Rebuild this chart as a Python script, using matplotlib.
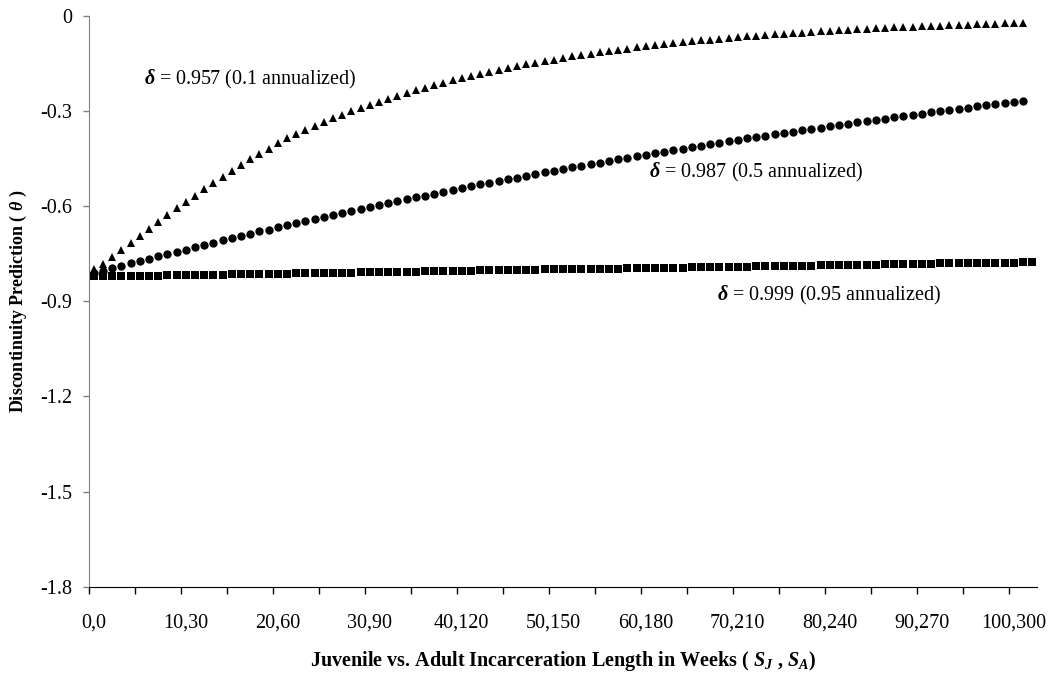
import matplotlib
matplotlib.use("Agg")
import matplotlib.pyplot as plt
import numpy as np

plt.rcParams["font.family"] = ["Liberation Serif", "DejaVu Serif"]
plt.rcParams["mathtext.fontset"] = "custom"
plt.rcParams["mathtext.rm"] = "Liberation Serif"
plt.rcParams["mathtext.it"] = "Liberation Serif:italic:bold"
plt.rcParams["mathtext.bf"] = "Liberation Serif:bold"

# delta = 0.957 (0.1 annualized), triangles
theta_957 = [
    -0.800, -0.784, -0.761, -0.738, -0.715, -0.693, -0.671, -0.649, -0.628, -0.607,
    -0.586, -0.567, -0.547, -0.527, -0.507, -0.488, -0.470, -0.452, -0.436, -0.419,
    -0.402, -0.386, -0.373, -0.360, -0.347, -0.335, -0.323, -0.312, -0.301, -0.291,
    -0.281, -0.271, -0.261, -0.252, -0.243, -0.235, -0.227, -0.219, -0.211, -0.204,
    -0.197, -0.190, -0.183, -0.177, -0.171, -0.165, -0.159, -0.153, -0.148, -0.143,
    -0.138, -0.133, -0.128, -0.124, -0.120, -0.115, -0.111, -0.107, -0.104, -0.100,
    -0.097, -0.093, -0.090, -0.087, -0.084, -0.081, -0.078, -0.075, -0.073, -0.070,
    -0.068, -0.065, -0.063, -0.061, -0.059, -0.057, -0.055, -0.053, -0.051, -0.049,
    -0.047, -0.046, -0.044, -0.043, -0.041, -0.040, -0.038, -0.037, -0.036, -0.034,
    -0.033, -0.032, -0.031, -0.030, -0.029, -0.028, -0.027, -0.026, -0.025, -0.024,
    -0.023, -0.022,
]

# delta = 0.987 (0.5 annualized), circles
theta_987 = [
    -0.812, -0.804, -0.796, -0.789, -0.781, -0.774, -0.766, -0.759, -0.751, -0.744,
    -0.737, -0.729, -0.722, -0.715, -0.708, -0.701, -0.694, -0.687, -0.680, -0.674,
    -0.667, -0.660, -0.654, -0.647, -0.641, -0.634, -0.628, -0.621, -0.615, -0.609,
    -0.603, -0.597, -0.590, -0.584, -0.578, -0.572, -0.567, -0.561, -0.555, -0.549,
    -0.543, -0.538, -0.532, -0.526, -0.521, -0.515, -0.510, -0.505, -0.499, -0.494,
    -0.489, -0.483, -0.478, -0.473, -0.468, -0.463, -0.458, -0.453, -0.448, -0.443,
    -0.438, -0.433, -0.429, -0.424, -0.419, -0.414, -0.410, -0.405, -0.401, -0.396,
    -0.392, -0.387, -0.383, -0.378, -0.374, -0.370, -0.365, -0.361, -0.357, -0.353,
    -0.349, -0.344, -0.340, -0.336, -0.332, -0.328, -0.324, -0.320, -0.317, -0.313,
    -0.309, -0.305, -0.301, -0.298, -0.294, -0.290, -0.286, -0.283, -0.279, -0.276,
    -0.272, -0.269,
]

# delta = 0.999 (0.95 annualized), squares
theta_999 = [
    -0.822, -0.822, -0.821, -0.821, -0.820, -0.820, -0.819, -0.819, -0.818, -0.818,
    -0.818, -0.817, -0.817, -0.816, -0.816, -0.815, -0.815, -0.815, -0.814, -0.814,
    -0.813, -0.813, -0.812, -0.812, -0.811, -0.811, -0.811, -0.810, -0.810, -0.809,
    -0.809, -0.808, -0.808, -0.807, -0.807, -0.807, -0.806, -0.806, -0.805, -0.805,
    -0.804, -0.804, -0.803, -0.803, -0.803, -0.802, -0.802, -0.801, -0.801, -0.800,
    -0.800, -0.800, -0.799, -0.799, -0.798, -0.798, -0.797, -0.797, -0.796, -0.796,
    -0.796, -0.795, -0.795, -0.794, -0.794, -0.793, -0.793, -0.792, -0.792, -0.792,
    -0.791, -0.791, -0.790, -0.790, -0.789, -0.789, -0.788, -0.788, -0.788, -0.787,
    -0.787, -0.786, -0.786, -0.785, -0.785, -0.785, -0.784, -0.784, -0.783, -0.783,
    -0.782, -0.782, -0.781, -0.781, -0.781, -0.780, -0.780, -0.779, -0.779, -0.778,
    -0.778, -0.777, -0.777,
]

n_categories = 103
label_every = 10
tick_every = 5
y_ticks = [0, -0.3, -0.6, -0.9, -1.2, -1.5, -1.8]
y_tick_labels = ["0", "-0.3", "-0.6", "-0.9", "-1.2", "-1.5", "-1.8"]

fig = plt.figure(figsize=(10.54, 6.75), dpi=100)
ax = fig.add_axes([0.0847, 0.1308, 0.8989, 0.8459])

ax.plot(np.arange(len(theta_957)) + 0.5, theta_957, "^", color="black", markersize=6.3, markeredgewidth=0)
ax.plot(np.arange(len(theta_987)) + 0.5, theta_987, "o", color="black", markersize=6, markeredgewidth=0)
ax.plot(np.arange(len(theta_999)) + 0.5, theta_999, "s", color="black", markersize=5.2, markeredgewidth=0)

ax.set_xlim(0, n_categories)
ax.set_ylim(-1.8, 0)

# category axis: ticks between categories, labels centered on categories
ax.set_xticks(np.arange(0, 101, tick_every))
ax.set_xticklabels([])
label_pos = np.arange(0, 101, label_every)
ax.set_xticks(label_pos + 0.5, minor=True)
ax.set_xticklabels([f"{k},{3 * k}" for k in label_pos], minor=True)
ax.tick_params(axis="x", which="major", direction="out", length=5, width=1, color="black")
ax.tick_params(axis="x", which="minor", length=0, pad=19, labelsize=14.5)

ax.set_yticks(y_ticks)
ax.set_yticklabels(y_tick_labels)
ax.tick_params(axis="y", direction="out", length=4, width=1, color="#808080", pad=8, labelsize=14.5)

for s in ["top", "right"]:
    ax.spines[s].set_visible(False)
ax.spines["left"].set_color("#808080")
ax.spines["bottom"].set_color("black")

ax.text(6.0, -0.200, r"$\delta$ = 0.957 (0.1 annualized)", fontsize=14.5, va="center")
ax.text(60.9, -0.494, r"$\delta$ = 0.987 (0.5 annualized)", fontsize=14.5, va="center")
ax.text(68.2, -0.882, r"$\delta$ = 0.999 (0.95 annualized)", fontsize=14.5, va="center")

ax.set_xlabel(r"Juvenile vs. Adult Incarceration Length in Weeks ( $S_J$ , $S_A$)",
              fontsize=14.5, fontweight="bold", labelpad=12)
ax.set_ylabel(r"Discontinuity Prediction ( $\theta$ )", fontsize=13, fontweight="bold", labelpad=8)

fig.savefig("out.png", dpi=100)
